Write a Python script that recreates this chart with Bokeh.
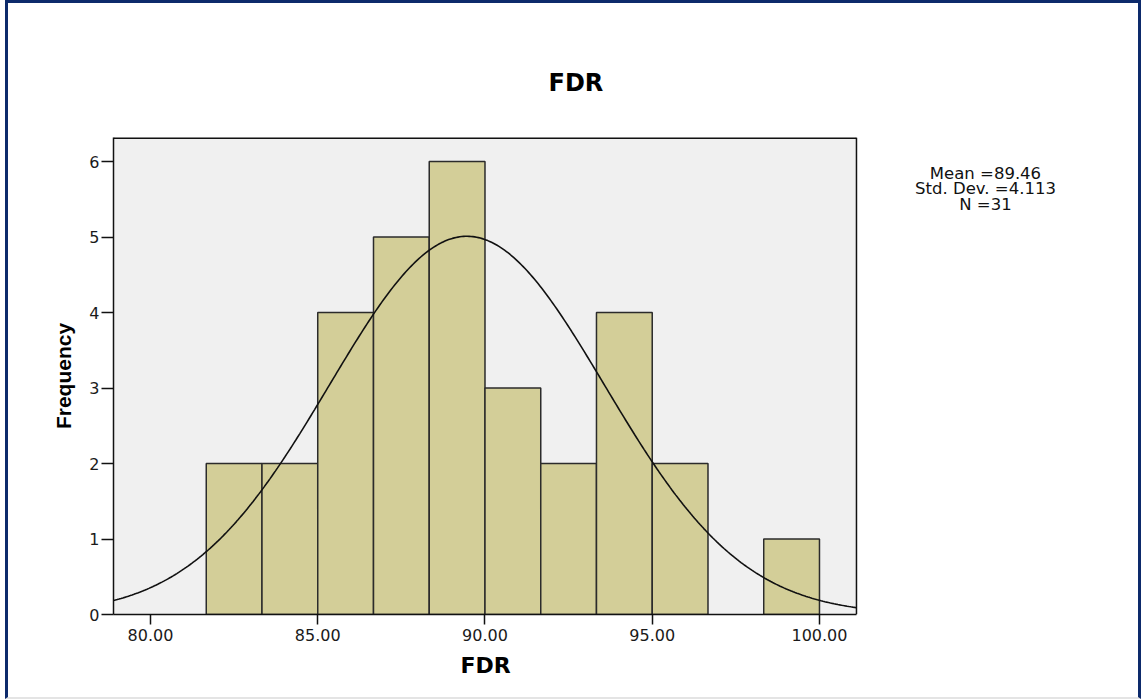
import numpy as np
from bokeh.plotting import figure
from bokeh.models import FixedTicker, Range1d, CustomJSTickFormatter, Title
from bokeh.core.properties import value
from bokeh.embed import file_html
from bokeh.resources import INLINE

# ---- data ----
bin_left = [81.667, 83.333, 85.000, 86.667, 88.333, 90.000, 91.667, 93.333, 95.000, 96.667, 98.333]
bin_right = [83.333, 85.000, 86.667, 88.333, 90.000, 91.667, 93.333, 95.000, 96.667, 98.333, 100.000]
counts = [2, 2, 4, 5, 6, 3, 2, 4, 2, 0, 1]
stat_mean = 89.46
stat_sd = 4.113
stat_n = 31
x_ticks = [80, 85, 90, 95, 100]
y_ticks = [0, 1, 2, 3, 4, 5, 6]
title_text = "FDR"
x_label = "FDR"
y_label = "Frequency"
stats_lines = ["Mean =89.46", "Std. Dev. =4.113", "N =31"]

# plot box (grey area) limits in data units
x0, x1 = 78.894, 101.106
y0, y1 = 0.0, 6.318
# the frame extends to the right to hold the statistics block
fx1 = 109.388

p = figure(frame_width=1020, frame_height=477,
           min_border_left=105, min_border_right=5,
           min_border_top=134, min_border_bottom=83,
           x_range=Range1d(x0, fx1), y_range=Range1d(y0, y1),
           output_backend="svg", toolbar_location=None,
           background_fill_color="white", border_fill_color="white",
           outline_line_color=None)
p.styles = {"margin-left": "5px",
            "border-left": "3px solid #0d2a6b", "border-right": "3px solid #0d2a6b",
            "border-top": "3px solid #0d2a6b", "border-bottom": "2px solid #e4e4e4"}

p.xgrid.visible = False
p.ygrid.visible = False

# grey plot area and its top/right edges
p.quad(left=[x0], right=[x1], bottom=[y0], top=[y1], fill_color="#f0f0f0", line_color=None)
p.line([x0, x1], [y1, y1], line_color="#111111", line_width=3)
p.line([x1, x1], [y0, y1], line_color="#111111", line_width=1.5)

# bars
keep = [i for i, c in enumerate(counts) if c > 0]
p.quad(left=[bin_left[i] for i in keep], right=[bin_right[i] for i in keep],
       bottom=0, top=[counts[i] for i in keep],
       fill_color="#d3ce98", line_color="#2b2b2b", line_width=1.5)

# normal curve from the stated statistics
bw = bin_right[0] - bin_left[0]
xs = np.linspace(x0, x1, 400)
ys = stat_n * bw / (stat_sd * np.sqrt(2 * np.pi)) * np.exp(-0.5 * ((xs - stat_mean) / stat_sd) ** 2)
p.line(xs, ys, line_color="#111111", line_width=1.6)

# axes
p.xaxis.ticker = FixedTicker(ticks=x_ticks)
p.xaxis.formatter = CustomJSTickFormatter(code="return tick.toFixed(2);")
p.yaxis.ticker = FixedTicker(ticks=y_ticks)
p.xaxis.bounds = (x0, x1)
for ax in (p.xaxis[0], p.yaxis[0]):
    ax.minor_tick_line_color = None
    ax.major_tick_in = 0
    ax.axis_line_color = "#111111"
    ax.axis_line_width = 1.5
    ax.major_tick_line_color = "#111111"
    ax.major_tick_line_width = 1.5
    ax.major_label_text_font = "DejaVu Sans"
    ax.major_label_text_font_size = "16px"
    ax.major_label_text_color = "#1a1a1a"
    ax.axis_label_text_font_style = "bold"
    ax.axis_label_text_color = "#000000"
p.xaxis.major_tick_out = 10
p.yaxis.major_tick_out = 12
p.xaxis.major_label_standoff = 4
p.yaxis.major_label_standoff = 2
p.yaxis.axis_label = y_label
p.yaxis.axis_label_text_font = "Liberation Sans"
p.yaxis.axis_label_text_font_size = "21px"
p.yaxis.axis_label_standoff = 11

# chart title above the plot box
p.title.text = title_text
p.title.align = "left"
p.title.offset = 435
p.title.standoff = 81
p.title.text_font = "DejaVu Sans"
p.title.text_font_size = "24px"
p.title.text_color = "#000000"

# x axis title below the axis, centred under the plot box
p.add_layout(Title(text=x_label, align="left", offset=347, standoff=18,
                   vertical_align="top", text_font="DejaVu Sans",
                   text_font_size="22px", text_font_style="bold",
                   text_color="#000000"), "below")

# statistics block
p.text(x=[104.963] * 3, y=[5.841, 5.642, 5.437], text=stats_lines,
       text_align="center", text_baseline="middle",
       text_font=value("DejaVu Sans"), text_font_size="16.5px",
       text_color="#111111")

open("out.html", "w").write(file_html(p, INLINE))
